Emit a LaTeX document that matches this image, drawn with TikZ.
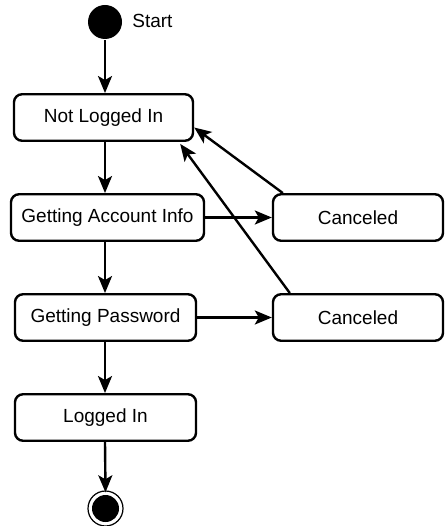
\documentclass[tikz,border=0pt]{standalone}
\usepackage{fontspec}
\setmainfont{Liberation Sans}
\usetikzlibrary{arrows.meta,positioning}

\begin{document}
\begin{tikzpicture}[x=1pt,y=-1pt,node distance=100pt,on grid,line width=2.4pt,
    >={Stealth[length=17pt,width=14pt,inset=4pt]}]
       \tikzstyle{box}=[draw, line width=2.4pt, rounded corners=8pt, minimum height=46.5pt,
                        font=\fontsize{19}{22}\selectfont]
       \tikzstyle{initial state}=[circle, fill=black, minimum size=34pt, inner sep=0pt]
       \tikzstyle{final state}=[circle, fill=black, minimum size=27pt, inner sep=0pt]
       \useasboundingbox (0,0) rectangle (445,526);

       \node[initial state] (start)    at (105,22) {};
       \node[anchor=west, inner sep=0pt, font=\fontsize{19}{22}\selectfont]
                            (start_txt) at ([xshift=8pt,yshift=1pt]start.east) {Start};
       \node[box, minimum width=179pt] (not_in)   [below=95.5pt of start, xshift=-1.5pt] {Not Logged In};
       \node[box, minimum width=193pt] (get_acct) [below of=not_in, xshift=4pt] {Getting Account Info};
       \node[box, minimum width=181pt] (get_pass) [below of=get_acct, xshift=-2pt] {Getting Password};
       \node[box, minimum width=181pt] (logged)   [below of=get_pass] {Logged In};
       \node[final state]              (stop)     [below=91pt of logged] {};
       \node[box, minimum width=170pt] (cancel_a) [right=250.5pt of get_acct] {Canceled};
       \node[box, minimum width=170pt] (cancel_b) [right=252.5pt of get_pass] {Canceled};
       \draw[line width=1.2pt] (stop) circle (17.5pt);

       \draw[->] (start)    -- (start |- not_in.north);
       \draw[->] (start |- not_in.south)   -- (start |- get_acct.north);
       \draw[->] (start |- get_acct.south) -- (start |- get_pass.north);
       \draw[->] (start |- get_pass.south) -- (start |- logged.north);
       \draw[->] (start |- logged.south)   -- ([yshift=1.5pt]stop.north);
       \draw[->] (get_acct) -- (cancel_a);
       \draw[->] (get_pass) -- (cancel_b);
       \draw[->] ([xshift=11pt]cancel_a.north west) -- ([yshift=-10pt]not_in.east);
       \draw[->] ([xshift=18pt]cancel_b.north west) -- ([xshift=-14pt,yshift=-2pt]not_in.south east);
     \end{tikzpicture}
\end{document}
